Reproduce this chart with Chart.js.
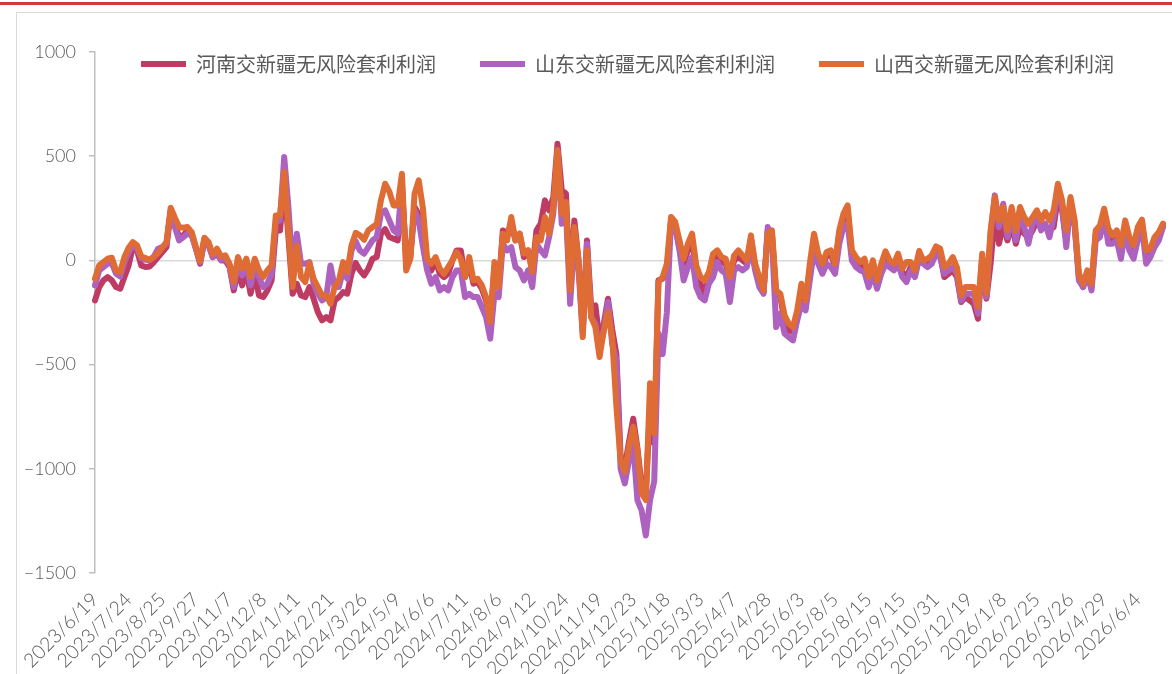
<!DOCTYPE html>
<html>
<head>
<meta charset="utf-8">
<script src="https://cdn.jsdelivr.net/npm/chart.js"></script>
<style>
  html, body { margin: 0; padding: 0; background: #fff; }
  body { width: 1172px; height: 674px; position: relative; overflow: hidden; }
  .topline { position: absolute; left: 0; top: 2px; width: 1172px; height: 3px; background: #d4373f; }
  .frame { position: absolute; left: 16px; top: 12px; width: 1300px; height: 800px; border: 1px solid #d9d9d9; }
  .box { position: absolute; left: 0; top: 0; width: 1172px; height: 674px; }
</style>
</head>
<body>
<div class="topline"></div>
<div class="frame"></div>
<div class="box"><canvas id="myChart"></canvas></div>
<script>
// tick labels shown on the x axis, one every 8 points
const tickLabels = ['2023/6/19', '2023/7/24', '2023/8/25', '2023/9/27', '2023/11/7', '2023/12/8',
  '2024/1/11', '2024/2/21', '2024/3/26', '2024/5/9', '2024/6/6', '2024/7/11', '2024/8/6',
  '2024/9/12', '2024/10/24', '2024/11/19', '2024/12/23', '2025/1/18', '2025/3/3', '2025/4/7',
  '2025/4/28', '2025/6/3', '2025/8/5', '2025/8/15', '2025/9/15', '2025/10/31', '2025/12/19',
  '2026/1/8', '2026/2/25', '2026/3/26', '2026/4/29', '2026/6/4'];
const tickEvery = 8;

const seriesNames = ['河南交新疆无风险套利利润', '山东交新疆无风险套利利润', '山西交新疆无风险套利利润'];

// 河南
const henan = [
  -192, -128, -96, -80, -96, -128, -136, -80, -24, 64,
  48, -24, -32, -29, -8, 16, 40, 64, 232, 176,
  112, 120, 144, 128, 56, -16, 96, 80, 16, 32,
  0, 0, -32, -144, -48, -120, -48, -160, -64, -168,
  -176, -144, -96, 144, 144, 368, 112, -160, -112, -168,
  -176, -128, -184, -248, -288, -272, -288, -192, -176, -152,
  -160, -64, -12, -48, -72, -40, 8, 16, 128, 150,
  112, 104, 96, 336, 24, 32, 256, 220, 144, -16,
  -48, 0, -64, -80, -64, 0, 48, 48, -80, -16,
  -112, -104, -136, -192, -304, -32, -128, 144, 128, 176,
  96, 128, 16, 48, -48, 144, 176, 288, 240, 304,
  560, 336, 320, -128, 192, 0, -336, 96, -224, -216,
  -384, -304, -184, -330, -450, -940, -990, -870, -760, -900,
  -1080, -1120, -700, -880, -96, -88, -48, 192, 160, 64,
  -16, 48, 96, -48, -112, -160, -80, -16, 24, -8,
  -16, -96, 0, 16, 0, -16, 104, -32, -96, -152,
  144, 128, -160, -176, -296, -336, -344, -264, -144, -216,
  -48, 96, 16, -32, 24, 32, -32, 128, 208, 240,
  24, -8, -24, -16, -104, -24, -120, -40, 8, -32,
  -32, 0, -56, -80, -32, -64, 24, -8, -16, -8,
  40, 24, -80, -64, -48, -80, -200, -176, -192, -208,
  -280, -8, -184, -16, 224, 80, 176, 96, 176, 80,
  160, 128, 112, 144, 192, 160, 160, 144, 160, 304,
  240, 96, 272, 160, -80, -128, -64, -128, 128, 144,
  224, 112, 96, 112, 48, 168, 80, 40, 128, 176,
  16, 32, 88, 112, 168
];

// 山东
const shandong = [
  -120, -48, -32, -16, -13, -64, -77, -8, 40, 72,
  56, 11, 3, 0, 19, 56, 64, 80, 240, 160,
  96, 112, 128, 120, 56, -8, 96, 72, 16, 40,
  3, 8, -24, -128, -8, -72, -16, -120, -32, -80,
  -128, -112, -64, 184, 192, 496, 256, -48, 128, -16,
  -16, -8, -112, -160, -192, -176, -24, -128, -128, -48,
  -88, 48, 92, 48, 32, 64, 96, 112, 224, 240,
  192, 144, 128, 368, -16, 16, 240, 190, 64, -48,
  -112, -80, -144, -128, -144, -80, -48, -48, -176, -160,
  -176, -176, -224, -272, -376, -160, -176, 80, 48, 64,
  -32, -48, -96, -48, -128, 80, 48, 24, 112, 224,
  528, 176, 240, -208, 96, -48, -352, 80, -272, -304,
  -432, -336, -200, -400, -480, -1000, -1070, -960, -880, -1150,
  -1200, -1320, -1150, -1060, -350, -450, -250, 192, 160, 48,
  -96, -32, 16, -128, -176, -192, -112, -80, -8, -48,
  -64, -200, -48, -32, -48, -32, 64, -48, -128, -160,
  160, 96, -320, -256, -352, -368, -384, -288, -208, -240,
  -96, 48, -16, -64, -16, -32, -64, 80, 160, 176,
  0, -32, -48, -56, -128, -64, -136, -64, -16, -32,
  -48, -16, -80, -104, -48, -80, 8, -16, -32, -16,
  32, 16, -64, -48, -32, -64, -192, -160, -160, -160,
  -256, 16, -176, 128, 312, 160, 272, 112, 232, 96,
  224, 160, 80, 176, 208, 144, 176, 112, 208, 352,
  256, 64, 288, 176, -96, -128, -64, -144, 96, 112,
  208, 80, 80, 96, 8, 144, 48, 8, 96, 160,
  -16, 16, 64, 96, 160
];

// 山西
const shanxi = [
  -88, -24, -8, 8, 13, -48, -56, 16, 61, 88,
  72, 19, 11, 3, 16, 35, 61, 88, 253, 205,
  160, 157, 160, 136, 64, -3, 109, 88, 29, 56,
  19, 24, -16, -104, 16, -40, 8, -80, 8, -48,
  -80, -48, -24, 216, 216, 424, 144, -128, 72, -80,
  -104, -13, -88, -128, -168, -168, -208, -128, -96, -8,
  -56, 72, 132, 120, 99, 144, 160, 173, 288, 368,
  330, 264, 264, 416, -48, 8, 320, 384, 248, 8,
  -16, 16, -40, -64, -32, 0, 40, 8, -80, 16,
  -96, -88, -120, -176, -296, -8, -128, 128, 96, 208,
  96, 128, 32, 48, -56, 112, 96, 208, 128, 256,
  528, 224, 280, -144, 160, 0, -368, 48, -272, -320,
  -464, -336, -248, -370, -700, -960, -1014, -894, -798, -910,
  -1117, -1150, -590, -830, -104, -80, -16, 208, 184, 96,
  8, 80, 128, -24, -80, -96, -56, 32, 48, 16,
  8, -80, 24, 48, 24, 0, 120, -16, -80, -144,
  128, 144, -144, -160, -264, -304, -320, -240, -112, -192,
  -16, 128, 32, -16, 40, 48, -16, 144, 224, 264,
  48, 16, -8, 8, -80, 0, -96, -16, 44, 0,
  -16, 32, -40, -8, -8, -48, 45, 0, 8, 24,
  67, 56, -32, -16, 16, -35, -168, -128, -128, -128,
  -224, 32, -160, 144, 304, 192, 256, 144, 256, 144,
  256, 208, 176, 208, 240, 192, 232, 192, 240, 368,
  288, 144, 304, 192, -64, -112, -48, -112, 144, 168,
  248, 152, 120, 144, 72, 192, 112, 72, 160, 196,
  48, 56, 112, 136, 176
];

const yTicks = { min: -1500, max: 1000, step: 500 };

const labels = shanxi.map((_, i) => i % tickEvery === 0 ? (tickLabels[i / tickEvery] || '') : '');

// legend sits inside the plot, like the original
const moveLegend = {
  id: 'moveLegend',
  afterLayout(chart) {
    const lg = chart.legend;
    const h = lg.bottom - lg.top;
    lg.left = 92;
    lg.right = 1163;
    lg.width = lg.right - lg.left;
    lg.top = 10;
    lg.bottom = lg.top + h;
  }
};

const lineSet = (label, data, color, order) => ({
  label: label,
  data: data,
  borderColor: color,
  backgroundColor: color,
  borderWidth: 6,
  borderCapStyle: 'round',
  borderJoinStyle: 'round',
  pointRadius: 0,
  tension: 0,
  order: order
});

const ctx = document.getElementById('myChart').getContext('2d');
const chart = new Chart(ctx, {
  type: 'line',
  data: {
    labels: labels,
    datasets: [
      lineSet(seriesNames[0], henan, '#BE3B63', 3),
      lineSet(seriesNames[1], shandong, '#AD62BF', 2),
      lineSet(seriesNames[2], shanxi, '#E06C35', 1)
    ]
  },
  options: {
    responsive: true,
    maintainAspectRatio: false,
    animation: false,
    events: [],
    layout: { padding: { left: 0, right: 9, top: -22, bottom: 0 } },
    plugins: {
      tooltip: { enabled: false },
      legend: {
        position: 'top',
        reverse: true,
        labels: {
          usePointStyle: true,
          pointStyle: 'line',
          pointStyleWidth: 45,
          padding: 44,
          color: '#595959',
          font: { family: "'Noto Sans CJK SC', sans-serif", size: 20 }
        }
      }
    },
    scales: {
      x: {
        type: 'category',
        grid: { display: false, drawTicks: false },
        border: { display: false },
        ticks: {
          autoSkip: false,
          minRotation: 45,
          maxRotation: 45,
          padding: 15,
          color: '#595959',
          font: { family: 'Lato, sans-serif', size: 19.5, weight: '300' },
          callback: (v, i) => labels[i] || null
        },
        afterFit: s => { s.height = 101; }
      },
      y: {
        min: yTicks.min,
        max: yTicks.max,
        ticks: {
          stepSize: yTicks.step,
          padding: 13,
          color: '#595959',
          font: { family: 'Lato, sans-serif', size: 18, weight: '300' },
          callback: v => String(v).replace('-', '\u2212')
        },
        grid: {
          color: c => c.tick && c.tick.value === 0 ? '#d9d9d9' : 'rgba(0,0,0,0)',
          lineWidth: 1.5,
          tickColor: '#bfbfbf',
          tickLength: 6,
          tickWidth: 1.5
        },
        border: { display: true, color: '#bfbfbf', width: 1.5 },
        afterFit: s => { s.width = 95; }
      }
    }
  },
  plugins: [moveLegend]
});
</script>
</body>
</html>
